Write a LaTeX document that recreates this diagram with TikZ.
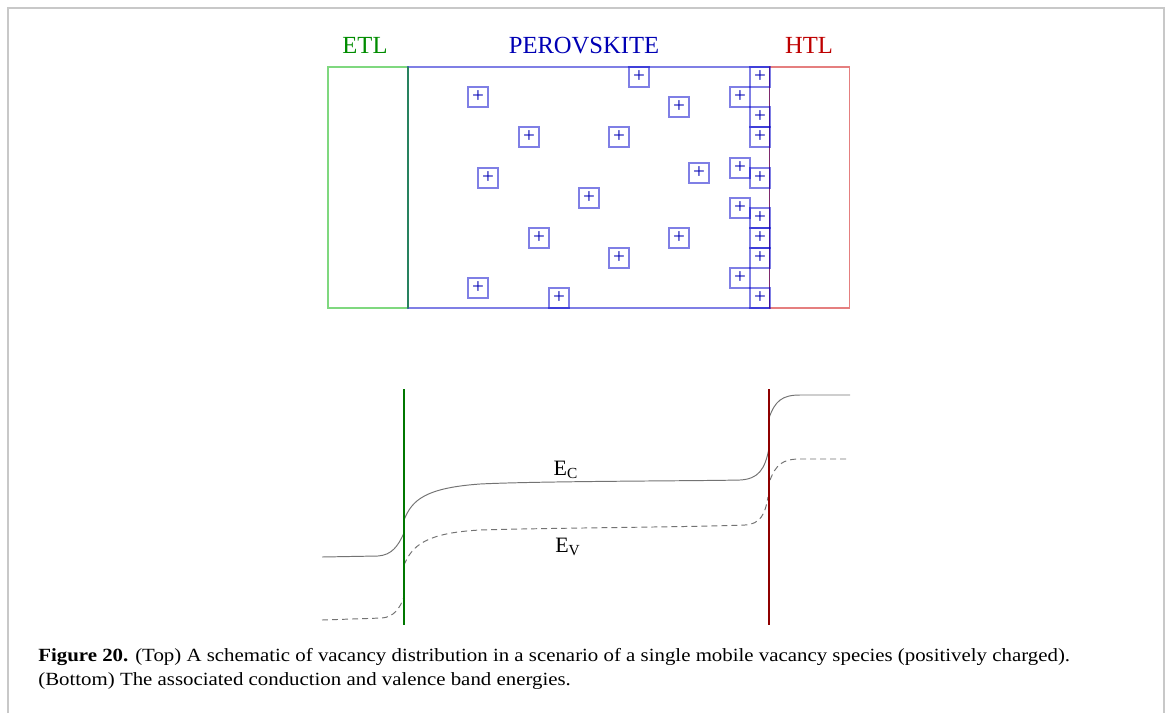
\documentclass[tikz,border=0pt]{standalone}
\usepackage{fontspec}
\setmainfont{Liberation Serif}
\newfontfamily\captionfont[FakeStretch=1.12]{Liberation Serif}
\usetikzlibrary{positioning}
\definecolor{etlgreen}{RGB}{0,140,0}
\definecolor{perblue}{RGB}{0,0,180}
\definecolor{htlred}{RGB}{190,0,0}
\definecolor{framegray}{RGB}{200,200,200}
\definecolor{etledge}{RGB}{40,130,95}
\definecolor{htledge}{RGB}{125,40,110}
\tikzstyle{layer} = [
    rectangle,
    draw,
    line width=0.6pt,
    draw opacity=0.5,
    minimum height=4.82cm,
    inner sep=0pt,
    outer sep=0pt
]
\tikzstyle{vacancy} = [
    rectangle,
    draw=blue!80!black,
    draw opacity=0.5,
    line width=0.6pt,
    minimum size=0.4cm,
    inner sep=0pt,
    text=perblue,
    font=\fontsize{12}{12}\selectfont
]
\tikzstyle{layername} = [
    anchor=base,
    font=\fontsize{14}{14}\selectfont
]
\tikzstyle{band} = [
    black!55,
    line width=0.55pt
]
\tikzstyle{captionline} = [
    anchor=base west,
    inner sep=0pt,
    font=\captionfont\fontsize{10.6}{13.6}\selectfont
]

\begin{document}
\begin{tikzpicture}[x=0.02cm, y=-0.02cm]
    \useasboundingbox (0,0) rectangle (1168,713);
    % page frame
    \draw[framegray, line width=1.1pt] (8,713) -- (8,8) -- (1164,8) -- (1164,713);

    % top: layers of the cell
    \node[layer, draw=green!70!black, minimum width=1.6cm] (etl) at (368,187.5) {};
    \node[layer, draw=blue!80!black, minimum width=7.24cm] (pero) [right=0pt of etl] {};
    \node[layer, draw=red!80!black, minimum width=1.6cm] (htl) [right=0pt of pero] {};
    \draw[etledge, line width=0.6pt] (etl.north east) -- (etl.south east);
    \draw[htledge, line width=0.6pt] (htl.north west) -- (htl.south west);

    \node[layername, text=etlgreen] (etlName) at (365,53) {ETL};
    \node[layername, text=perblue] (peroName) at (584,53) {PEROVSKITE};
    \node[layername, text=htlred] (htlName) at (809,53) {HTL};

    % vacancies in the bulk
    \node[vacancy] (v1) at (639,77) {+};
    \node[vacancy] (v2) at (478,97) {+};
    \node[vacancy] (v3) at (679,107) {+};
    \node[vacancy] (v4) at (529,137) {+};
    \node[vacancy] (v5) at (619,137) {+};
    \node[vacancy] (v6) at (488,178) {+};
    \node[vacancy] (v7) at (699,173) {+};
    \node[vacancy] (v8) at (589,198) {+};
    \node[vacancy] (v9) at (539,238) {+};
    \node[vacancy] (v10) at (679,238) {+};
    \node[vacancy] (v11) at (619,258) {+};
    \node[vacancy] (v12) at (478,288) {+};
    \node[vacancy] (v13) at (559,298) {+};
    % vacancies piled up at the HTL side
    \node[vacancy] (v14) at (740,97) {+};
    \node[vacancy] (v15) at (740,168) {+};
    \node[vacancy] (v16) at (740,208) {+};
    \node[vacancy] (v17) at (740,278) {+};
    \node[vacancy] (v18) at (760,77) {+};
    \node[vacancy] (v19) at (760,117) {+};
    \node[vacancy] (v20) at (760,137) {+};
    \node[vacancy] (v21) at (760,178) {+};
    \node[vacancy] (v22) at (760,218) {+};
    \node[vacancy] (v23) at (760,238) {+};
    \node[vacancy] (v24) at (760,258) {+};
    \node[vacancy] (v25) at (760,298) {+};

    % bottom: band diagram
    \coordinate (etlTop) at (404,389);
    \coordinate (etlBottom) at (404,625);
    \coordinate (htlTop) at (769,389);
    \coordinate (htlBottom) at (769,625);

    % conduction band
    \draw[band] (322,557) -- (378,556) .. controls (392,555) and (398,546) .. (404,533);
    \draw[band] (404,520) .. controls (412,500) and (425,488) .. (480,484)
        .. controls (540,481) and (700,481) .. (740,480)
        .. controls (758,479) and (765,470) .. (769,448);
    \draw[band] (769,418) .. controls (775,401) and (782,395) .. (800,395) -- (850,395);
    % valence band
    \draw[band, dash pattern=on 3.4pt off 2.3pt] (322,620) -- (382,618) .. controls (394,617) and (400,608) .. (404,597);
    \draw[band, dash pattern=on 3.4pt off 2.3pt] (404,565) .. controls (412,546) and (425,533) .. (480,530)
        .. controls (540,528) and (700,527) .. (745,525)
        .. controls (760,524) and (765,515) .. (768,497);
    \draw[band, dash pattern=on 3.4pt off 2.3pt] (770,480) .. controls (776,465) and (782,459) .. (800,459) -- (850,459);

    \draw[etlgreen!85!black, line width=0.8pt] (etlTop) -- (etlBottom);
    \draw[htlred!75!black, line width=0.8pt] (htlTop) -- (htlBottom);

    \node[font=\fontsize{12.5}{12.5}\selectfont] (ec) at (566,470) {E\textsubscript{C}};
    \node[font=\fontsize{12.5}{12.5}\selectfont] (ev) at (568,547) {E\textsubscript{V}};

    % caption
    \node[captionline] (cap1) at (38,661) {\textbf{Figure 20.} (Top) A schematic of vacancy distribution in a scenario of a single mobile vacancy species (positively charged).};
    \node[captionline] (cap2) at (38,685) {(Bottom) The associated conduction and valence band energies.};
\end{tikzpicture}
\end{document}
